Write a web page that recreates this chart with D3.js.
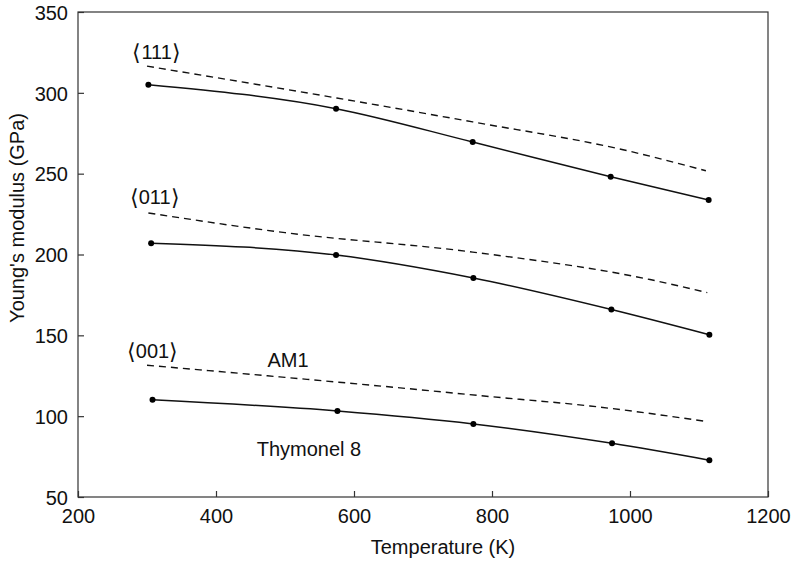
<!DOCTYPE html>
<html><head><meta charset="utf-8">
<script src="https://cdn.jsdelivr.net/npm/d3@7"></script>
<style>body{margin:0;background:#fff}text{font-family:"Liberation Sans",Arial,sans-serif;fill:#111}</style>
</head><body><svg id="c" width="799" height="562"></svg>
<script>
// Thymonel 8 (solid, measured points)
const tempsT111 = [302, 574, 772, 972, 1114];
const thy111 = [305, 290.2, 269.6, 248.1, 233.7];
const tempsT011 = [306, 574, 773, 973, 1115];
const thy011 = [207, 199.7, 185.5, 166, 150.4];
const tempsT001 = [308, 576, 773, 974, 1115];
const thy001 = [110.1, 103.2, 95.2, 83.2, 72.8];
// AM1 (dashed)
const tempsA111 = [300, 575, 772, 990, 1110];
const am111 = [316.5, 296.8, 282, 264.8, 251.8];
const tempsA011 = [302, 500, 772, 1029, 1112];
const am011 = [225.7, 213.5, 201.5, 184.5, 176.4];
const tempsA001 = [300, 500, 667, 800, 942, 1113];
const am001 = [131.5, 124, 117.5, 112, 106.3, 96.6];
const xTicks = [200, 400, 600, 800, 1000, 1200];
const yTicks = [50, 100, 150, 200, 250, 300, 350];
const orientLabels = ["111", "011", "001"];
const orientLabelPos = [[314, 325], [311, 235.5], [308, 140.3]];

const svg = d3.select("#c");
const L = 78, R = 768, T = 12, B = 497;
const FS = 20;
const x = d3.scaleLinear().domain([200, 1200]).range([L, R]);
const y = d3.scaleLinear().domain([50, 350]).range([B, T]);

svg.append("rect").attr("x", L).attr("y", T).attr("width", R - L).attr("height", B - T)
  .attr("fill", "none").attr("stroke", "#333").attr("stroke-width", 1.2);

const xa = svg.append("g").attr("transform", `translate(0,${B})`)
  .call(d3.axisBottom(x).tickValues(xTicks).tickSize(-6).tickFormat(d3.format("d")));
const ya = svg.append("g").attr("transform", `translate(${L},0)`)
  .call(d3.axisLeft(y).tickValues(yTicks).tickSize(-6).tickPadding(10).tickFormat(d3.format("d")));
[xa, ya].forEach(a => {
  a.select(".domain").remove();
  a.selectAll(".tick line").attr("stroke", "#333").attr("stroke-width", 1.2);
  a.selectAll(".tick text").attr("font-size", FS).attr("fill", "#111")
    .style("font-family", '"Liberation Sans",Arial,sans-serif');
});
xa.selectAll(".tick text").attr("y", 26).attr("dy", null);
ya.selectAll(".tick text").attr("dy", "0.36em");

const line = d3.line().x(d => x(d[0])).y(d => y(d[1])).curve(d3.curveMonotoneX);

const amSeries = [[tempsA111, am111], [tempsA011, am011], [tempsA001, am001]];
amSeries.forEach(([t, v]) => {
  svg.append("path").datum(t.map((d, i) => [d, v[i]])).attr("d", line)
    .attr("fill", "none").attr("stroke", "#111").attr("stroke-width", 1.4).attr("stroke-dasharray", "7,5");
});
const thySeries = [[tempsT111, thy111], [tempsT011, thy011], [tempsT001, thy001]];
thySeries.forEach(([t, v]) => {
  const pts = t.map((d, i) => [d, v[i]]);
  svg.append("path").datum(pts).attr("d", line)
    .attr("fill", "none").attr("stroke", "#111").attr("stroke-width", 1.5);
  svg.selectAll(null).data(pts).enter().append("circle")
    .attr("cx", d => x(d[0])).attr("cy", d => y(d[1])).attr("r", 3).attr("fill", "#000");
});

orientLabels.forEach((s, i) => {
  const t = svg.append("text").attr("x", x(orientLabelPos[i][0])).attr("y", y(orientLabelPos[i][1]))
    .attr("text-anchor", "middle").attr("dominant-baseline", "central").attr("font-size", FS);
  t.append("tspan").style("font-family", '"DejaVu Sans"').attr("font-size", 22).attr("font-weight", 300).text("⟨");
  t.append("tspan").text(s);
  t.append("tspan").style("font-family", '"DejaVu Sans"').attr("font-size", 22).attr("font-weight", 300).text("⟩");
});
svg.append("text").attr("x", 288).attr("y", 360).attr("text-anchor", "middle")
  .attr("dominant-baseline", "central").attr("font-size", FS).text("AM1");
svg.append("text").attr("x", 309).attr("y", 449).attr("text-anchor", "middle")
  .attr("dominant-baseline", "central").attr("font-size", FS).text("Thymonel 8");

svg.append("text").attr("x", 443).attr("y", 554).attr("text-anchor", "middle")
  .attr("font-size", FS).text("Temperature (K)");
svg.append("text").attr("transform", `translate(24,113) rotate(-90)`)
  .attr("text-anchor", "end").attr("font-size", FS).text("Young's modulus (GPa)");
</script></body></html>
